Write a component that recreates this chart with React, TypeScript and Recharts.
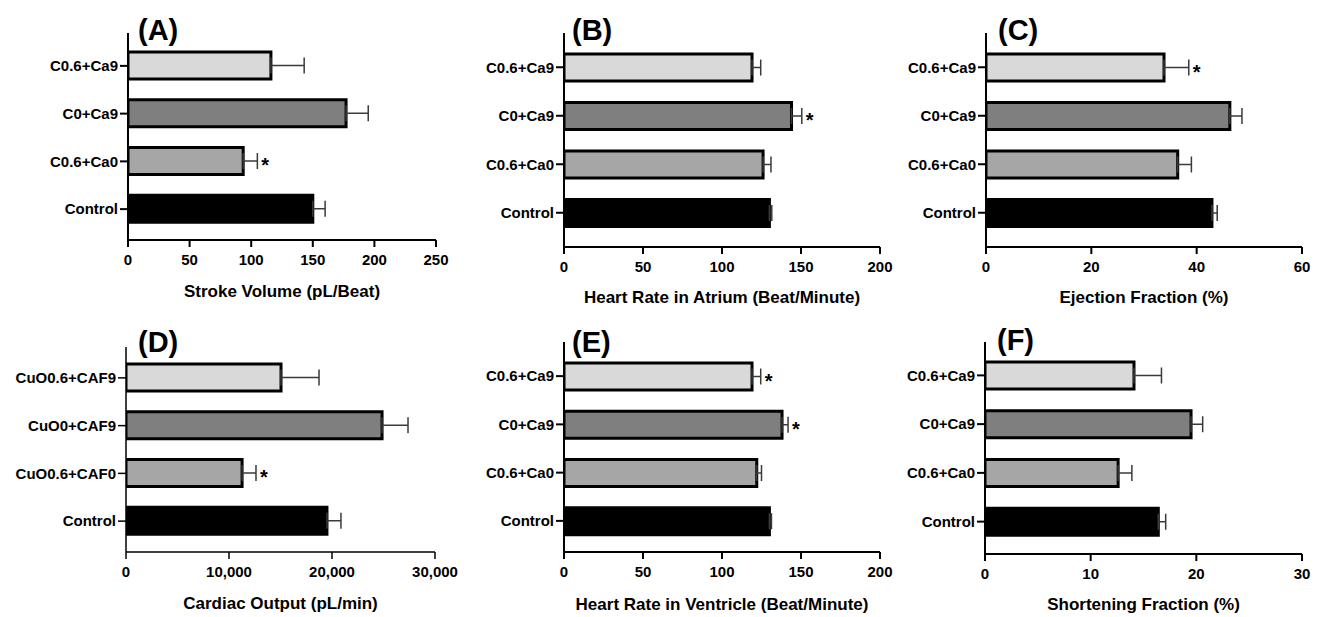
import React from 'react';
import { BarChart, Bar, XAxis, YAxis, Cell, ErrorBar, LabelList } from 'recharts';

const FONT = '"Liberation Sans", Arial, Helvetica, sans-serif';

// categories (top to bottom)
const categories = ['C0.6+Ca9', 'C0+Ca9', 'C0.6+Ca0', 'Control'];
const categoriesD = ['CuO0.6+CAF9', 'CuO0+CAF9', 'CuO0.6+CAF0', 'Control'];
const barColors = ['#d9d9d9', '#7f7f7f', '#a6a6a6', '#000000'];

// (A) Stroke Volume
const strokeVolume = [116, 177, 93.5, 150];
const strokeVolumeErr = [27, 18, 11.5, 10];
const strokeVolumeSig = [false, false, true, false];
const strokeVolumeTicks = [0, 50, 100, 150, 200, 250];

// (B) Heart Rate in Atrium
const hrAtrium = [119, 144, 126, 130];
const hrAtriumErr = [5.5, 6.5, 5, 1.5];
const hrAtriumSig = [false, true, false, false];
const hrTicks = [0, 50, 100, 150, 200];

// (C) Ejection Fraction
const ejection = [33.8, 46.3, 36.4, 42.9];
const ejectionErr = [4.7, 2.3, 2.6, 1.0];
const ejectionSig = [true, false, false, false];
const ejectionTicks = [0, 20, 40, 60];

// (D) Cardiac Output
const cardiacOutput = [15050, 24860, 11270, 19510];
const cardiacOutputErr = [3690, 2520, 1350, 1360];
const cardiacOutputSig = [false, false, true, false];
const cardiacTicks = [0, 10000, 20000, 30000];

// (E) Heart Rate in Ventricle
const hrVentricle = [119, 138, 122, 130];
const hrVentricleErr = [5.5, 3.8, 3, 1.3];
const hrVentricleSig = [true, true, false, false];

// (F) Shortening Fraction
const shortening = [14.1, 19.5, 12.6, 16.4];
const shorteningErr = [2.6, 1.1, 1.3, 0.7];
const shorteningSig = [false, false, false, false];
const shorteningTicks = [0, 10, 20, 30];

const panelLetters = ['(A)', '(B)', '(C)', '(D)', '(E)', '(F)'];
const axisTitles = [
  'Stroke Volume (pL/Beat)',
  'Heart Rate in Atrium (Beat/Minute)',
  'Ejection Fraction (%)',
  'Cardiac Output (pL/min)',
  'Heart Rate in Ventricle (Beat/Minute)',
  'Shortening Fraction (%)',
];

type PanelProps = {
  left: number; top: number; width: number; height: number;
  plotLeft: number; plotRight: number; plotTop: number; plotBottom: number;
  cats: string[]; values: number[]; errs: number[]; sig: boolean[];
  ticks: number[]; padTop: number; padBottom: number;
  fmt?: (v: number) => string; axisW?: number;
};

function Panel(p: PanelProps) {
  const data = p.cats.map((c, i) => ({
    name: c,
    value: p.values[i],
    err: [0, p.errs[i]],
    idx: i,
  }));
  const xAxisHeight = 40;
  const margin = {
    top: p.plotTop - p.top,
    right: p.left + p.width - p.plotRight,
    bottom: p.top + p.height - p.plotBottom - xAxisHeight,
    left: 0,
  };
  const aw = p.axisW ?? 2;
  const renderStar = (lp: any) => {
    const i = lp.index;
    if (i == null || !p.sig[i]) return null;
    const vb = lp.viewBox && lp.viewBox.width != null ? lp.viewBox : lp;
    const v = p.values[i];
    const pxPer = vb.width / v;
    const xEnd = vb.x + pxPer * (v + p.errs[i]);
    return (
      <text
        key={'star' + i}
        x={xEnd + 4}
        y={vb.y + vb.height / 2 + 11}
        fontSize={20}
        fontWeight="bold"
        fontFamily={FONT}
        fill="#000"
      >
        *
      </text>
    );
  };
  return (
    <div style={{ position: 'absolute', left: p.left, top: p.top, width: p.width, height: p.height }}>
      <BarChart width={p.width} height={p.height} data={data} layout="vertical" margin={margin}>
        <XAxis
          type="number"
          domain={[p.ticks[0], p.ticks[p.ticks.length - 1]]}
          ticks={p.ticks}
          interval={0}
          tickFormatter={p.fmt}
          height={xAxisHeight}
          tickSize={7}
          tickMargin={7}
          axisLine={{ stroke: '#000', strokeWidth: aw }}
          tickLine={{ stroke: '#000', strokeWidth: aw }}
          tick={{ fill: '#000', fontSize: 15, fontWeight: 'bold', fontFamily: FONT }}
          allowDataOverflow
        />
        <YAxis
          type="category"
          dataKey="name"
          width={p.plotLeft - p.left}
          padding={{ top: p.padTop, bottom: p.padBottom }}
          tickSize={8}
          tickMargin={2}
          axisLine={{ stroke: '#000', strokeWidth: aw }}
          tickLine={{ stroke: '#000', strokeWidth: aw }}
          tick={{ fill: '#000', fontSize: 15, fontWeight: 'bold', fontFamily: FONT }}
          interval={0}
        />
        <Bar dataKey="value" barSize={27} stroke="#000" strokeWidth={3} isAnimationActive={false}>
          {data.map((d, i) => (
            <Cell key={i} fill={barColors[i]} />
          ))}
          <ErrorBar dataKey="err" direction="x" width={8} stroke="#3a3a3a" strokeWidth={1.5} isAnimationActive={false} />
          <LabelList dataKey="value" content={renderStar} />
        </Bar>
      </BarChart>
    </div>
  );
}

const fmtThousands = (v: number) => v.toLocaleString('en-US');

export default function App() {
  const titleStyle = { fontSize: 17, fontWeight: 'bold' as const, fontFamily: FONT, fill: '#000' };
  const letterStyle = { fontSize: 29, fontWeight: 'bold' as const, fontFamily: FONT, fill: '#000' };
  return (
    <div style={{ position: 'absolute', left: 0, top: 0, width: 1323, height: 617, background: '#fff', overflow: 'hidden' }}>
      <Panel left={0} top={0} width={460} height={310} plotLeft={128} plotRight={436} plotTop={33} plotBottom={240}
        cats={categories} values={strokeVolume} errs={strokeVolumeErr} sig={strokeVolumeSig}
        ticks={strokeVolumeTicks} padTop={9} padBottom={7} />
      <Panel left={440} top={0} width={460} height={310} plotLeft={564} plotRight={880} plotTop={33} plotBottom={247}
        cats={categories} values={hrAtrium} errs={hrAtriumErr} sig={hrAtriumSig}
        ticks={hrTicks} padTop={10} padBottom={10} />
      <Panel left={880} top={0} width={443} height={310} plotLeft={986} plotRight={1302} plotTop={33} plotBottom={247}
        cats={categories} values={ejection} errs={ejectionErr} sig={ejectionSig}
        ticks={ejectionTicks} padTop={10} padBottom={10} />
      <Panel left={0} top={300} width={460} height={317} plotLeft={126} plotRight={435} plotTop={347} plotBottom={552}
        cats={categoriesD} values={cardiacOutput} errs={cardiacOutputErr} sig={cardiacOutputSig}
        ticks={cardiacTicks} padTop={7} padBottom={7} fmt={fmtThousands} axisW={1.5} />
      <Panel left={440} top={300} width={460} height={317} plotLeft={564} plotRight={880} plotTop={342} plotBottom={552}
        cats={categories} values={hrVentricle} errs={hrVentricleErr} sig={hrVentricleSig}
        ticks={hrTicks} padTop={10} padBottom={7} />
      <Panel left={880} top={300} width={443} height={317} plotLeft={985} plotRight={1302} plotTop={342} plotBottom={554}
        cats={categories} values={shortening} errs={shorteningErr} sig={shorteningSig}
        ticks={shorteningTicks} padTop={9} padBottom={8} />
      <svg width={1323} height={617} style={{ position: 'absolute', left: 0, top: 0, pointerEvents: 'none' }}>
        <text x={138} y={40} {...letterStyle}>{panelLetters[0]}</text>
        <text x={572} y={40} {...letterStyle}>{panelLetters[1]}</text>
        <text x={998} y={40} {...letterStyle}>{panelLetters[2]}</text>
        <text x={138} y={352} {...letterStyle}>{panelLetters[3]}</text>
        <text x={572} y={352} {...letterStyle}>{panelLetters[4]}</text>
        <text x={997} y={350} {...letterStyle}>{panelLetters[5]}</text>
        <text x={282} y={297} textAnchor="middle" {...titleStyle}>{axisTitles[0]}</text>
        <text x={722} y={303} textAnchor="middle" {...titleStyle}>{axisTitles[1]}</text>
        <text x={1144} y={303} textAnchor="middle" {...titleStyle}>{axisTitles[2]}</text>
        <text x={280.5} y={609} textAnchor="middle" {...titleStyle}>{axisTitles[3]}</text>
        <text x={722} y={610} textAnchor="middle" {...titleStyle}>{axisTitles[4]}</text>
        <text x={1143.5} y={610} textAnchor="middle" {...titleStyle}>{axisTitles[5]}</text>
      </svg>
    </div>
  );
}
